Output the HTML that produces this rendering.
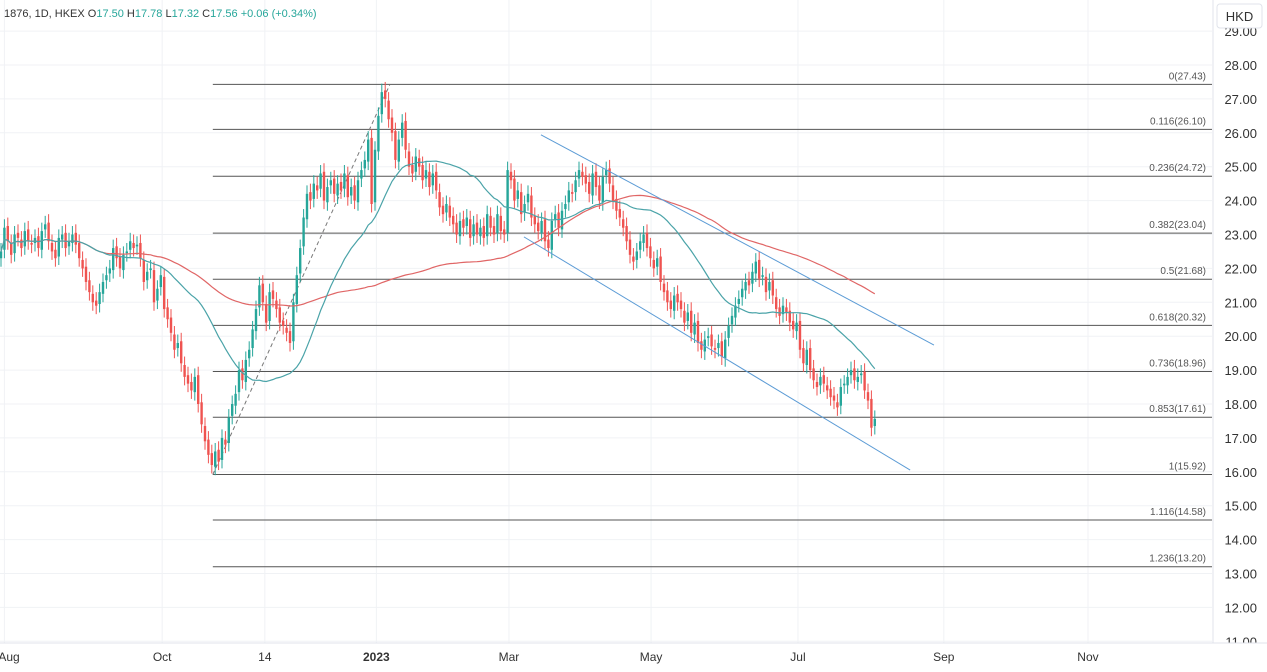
<!DOCTYPE html>
<html><head><meta charset="utf-8">
<style>
body{margin:0;background:#fff;font-family:"Liberation Sans",sans-serif;}
#wrap{position:relative;width:1267px;height:672px;overflow:hidden;}
svg{position:absolute;left:0;top:0;}
</style></head>
<body>
<div id="wrap">
<svg id="chart" width="1267" height="672"></svg>
</div>
<script>
const closes=[
22.5,23.2,22.8,22.4,23.0,22.9,22.6,23.1,22.8,22.7,
22.9,22.6,23.1,23.3,22.8,22.5,22.3,22.9,23.0,22.6,
22.8,23.0,22.7,22.3,22.0,21.6,21.3,21.0,20.9,21.3,
21.6,21.8,22.0,22.6,22.3,22.0,22.4,22.5,22.8,22.6,
22.7,22.3,21.6,21.9,22.0,21.0,21.4,21.8,20.8,20.5,
20.1,19.6,19.8,19.2,18.8,18.6,18.4,18.8,18.0,17.4,
16.9,16.5,16.2,16.6,16.3,17.0,16.8,17.6,18.0,18.3,
19.0,18.7,19.3,19.6,20.2,20.8,21.5,21.0,20.4,21.3,
21.1,20.8,20.4,20.3,20.1,19.8,21.0,21.8,22.6,23.5,
24.2,24.0,24.5,24.3,24.8,24.0,24.4,24.6,24.2,24.5,
24.3,24.8,24.1,24.4,24.0,24.6,24.9,25.2,25.8,23.9,
25.5,26.5,27.2,27.0,26.4,26.0,25.2,25.8,26.3,25.5,
25.0,24.8,25.3,25.0,24.6,24.9,24.4,24.8,24.3,23.8,
23.6,23.9,23.5,23.3,23.0,23.4,23.2,23.5,22.9,23.3,
23.0,23.2,22.9,23.6,23.2,23.0,23.6,23.1,23.0,24.9,
24.6,24.0,24.3,23.6,23.9,24.2,23.5,23.3,23.1,23.4,
22.8,22.6,23.4,23.6,23.2,23.7,23.9,24.3,24.2,24.6,
24.9,24.7,24.5,24.2,24.8,24.4,24.0,24.7,24.9,24.5,
24.0,23.7,23.5,23.2,22.8,22.4,22.2,22.5,22.8,23.0,
22.6,22.3,22.0,22.3,21.6,21.3,21.0,20.8,21.2,21.0,
20.8,20.4,20.7,20.1,20.4,19.8,19.6,19.9,20.0,19.7,
19.6,19.8,19.4,19.9,20.3,20.6,20.9,21.1,21.4,21.6,
21.5,21.9,22.2,21.7,21.8,21.3,21.6,21.2,20.8,20.6,
20.9,20.7,20.4,20.2,20.4,19.6,19.2,19.6,19.0,18.7,
18.5,18.8,18.6,18.4,18.2,18.1,17.9,18.5,18.6,18.8,
19.0,18.7,18.8,18.9,18.4,18.1,17.3,17.56];
const priceTicks=[29,28,27,26,25,24,23,22,21,20,19,18,17,16,15,14,13,12,11];
const timeLabels=["Aug","Oct","14","2023","Mar","May","Jul","Sep","Nov"];
const timeIdx=[1,47.4,77.6,110.4,149.4,191.2,234.4,277.3,319.7];
const fibRatios=["0","0.116","0.236","0.382","0.5","0.618","0.736","0.853","1","1.116","1.236"];
const fibPrices=[27.43,26.10,24.72,23.04,21.68,20.32,18.96,17.61,15.92,14.58,13.20];
const upperChannel=[[158.8,25.94],[274.4,19.74]];
const lowerChannel=[[153.8,22.93],[267.4,16.05]];
const fibDash=[[62.3,15.92],[114.4,27.43]];

const svg=document.getElementById('chart');
const NS='http://www.w3.org/2000/svg';
const PW=1212;
const yS=p=>65+(28-p)*33.9;
const xS=i=>1+i*3.4;
function mk(t,a,parent){const e=document.createElementNS(NS,t);for(const k in a)e.setAttribute(k,a[k]);(parent||svg).appendChild(e);return e;}

const grid=mk('g',{});


priceTicks.forEach(p=>mk('line',{x1:0,x2:PW,y1:yS(p),y2:yS(p),stroke:'#f0f2f5','stroke-width':1},grid));
timeIdx.forEach(i=>mk('line',{x1:xS(i),x2:xS(i),y1:0,y2:643,stroke:'#f0f2f5','stroke-width':1},grid));

const fib=mk('g',{});


const fx0=xS(fibDash[0][0]);
fibPrices.forEach((p,k)=>{
  const l=mk('line',{x1:fx0,x2:PW,y1:yS(p),y2:yS(p),stroke:'#555','stroke-width':1},fib);
  
  
  const t=mk('text',{x:1206,y:yS(p)-5,'text-anchor':'end','font-size':10,fill:'#555'},fib);
  t.textContent=fibRatios[k]+'('+p.toFixed(2)+')';
  
  
});
const fd=mk('line',{x1:xS(fibDash[0][0]),y1:yS(fibDash[0][1]),x2:xS(fibDash[1][0]),y2:yS(fibDash[1][1]),stroke:'#777','stroke-width':1,'stroke-dasharray':'4,3'});



function sma(n){return closes.map((c,i)=>{const s=Math.max(0,i-n+1);let a=0;for(let j=s;j<=i;j++)a+=closes[j];return a/(i-s+1);});}
function path(arr,col,name){const d=arr.map((v,i)=>(i?'L':'M')+xS(i).toFixed(1)+','+yS(v).toFixed(1)).join('');const e=mk('path',{d:d,fill:'none',stroke:col,'stroke-width':1.2});}

const cg=mk('g',{});


closes.forEach((c,i)=>{
  const o=i?closes[i-1]+(i%3?0.05:-0.05):c-0.2;
  const up=c>=o, col=up?'#26a69a':'#ef5350';
  const hi=Math.max(o,c)+0.25, lo=Math.min(o,c)-0.25, x=xS(i);
  const w=mk('line',{x1:x,x2:x,y1:yS(hi),y2:yS(lo),stroke:col,'stroke-width':1},cg);
  
  
  const top=yS(Math.max(o,c)),h=Math.max(1,Math.abs(yS(o)-yS(c)));
  const b=mk('rect',{x:x-1.2,y:top,width:2.4,height:h,fill:col},cg);
  
  
});
path(sma(100),'#e06666','ma-slow-line');
path(sma(30),'#4aa3a8','ma-fast-line');

[[upperChannel,'channel-upper-line'],[lowerChannel,'channel-lower-line']].forEach(([c,n])=>{
  const e=mk('line',{x1:xS(c[0][0]),y1:yS(c[0][1]),x2:xS(c[1][0]),y2:yS(c[1][1]),stroke:'#5b9bd5','stroke-width':1});
  
  
});

const ax=mk('g',{});


mk('rect',{x:1213,y:0,width:54,height:643,fill:'#fff'},ax);
mk('line',{x1:1213,x2:1213,y1:0,y2:672,stroke:'#e0e3eb'},ax);
priceTicks.forEach(p=>{const t=mk('text',{x:1257,y:yS(p)+5,'text-anchor':'end','font-size':13,fill:'#333'},ax);t.textContent=p.toFixed(2);});
const hb=mk('rect',{x:1217,y:4,width:45,height:24,rx:3,fill:'#fff',stroke:'#e0e3eb'});


const ht=mk('text',{x:1239.5,y:21,'text-anchor':'middle','font-size':13,fill:'#333'});ht.textContent='HKD';


const tx=mk('g',{});


mk('rect',{x:0,y:643,width:1267,height:29,fill:'#fff'},tx);
mk('line',{x1:0,x2:1267,y1:643,y2:643,stroke:'#e0e3eb'},tx);
timeLabels.forEach((l,k)=>{const t=mk('text',{x:Math.max(xS(timeIdx[k]),9),y:661,'text-anchor':'middle','font-size':12,fill:'#333','font-weight':l==='2023'?'bold':'normal'},tx);t.textContent=l;});

const hd=mk('text',{x:4,y:17,'font-size':11,fill:'#333'});


hd.setAttribute('xml:space','preserve');
hd.innerHTML='1876, 1D, HKEX  O<tspan fill="#26a69a">17.50</tspan>  H<tspan fill="#26a69a">17.78</tspan>  L<tspan fill="#26a69a">17.32</tspan>  C<tspan fill="#26a69a">17.56</tspan>  <tspan fill="#26a69a">+0.06 (+0.34%)</tspan>';
</script>
</body></html>
